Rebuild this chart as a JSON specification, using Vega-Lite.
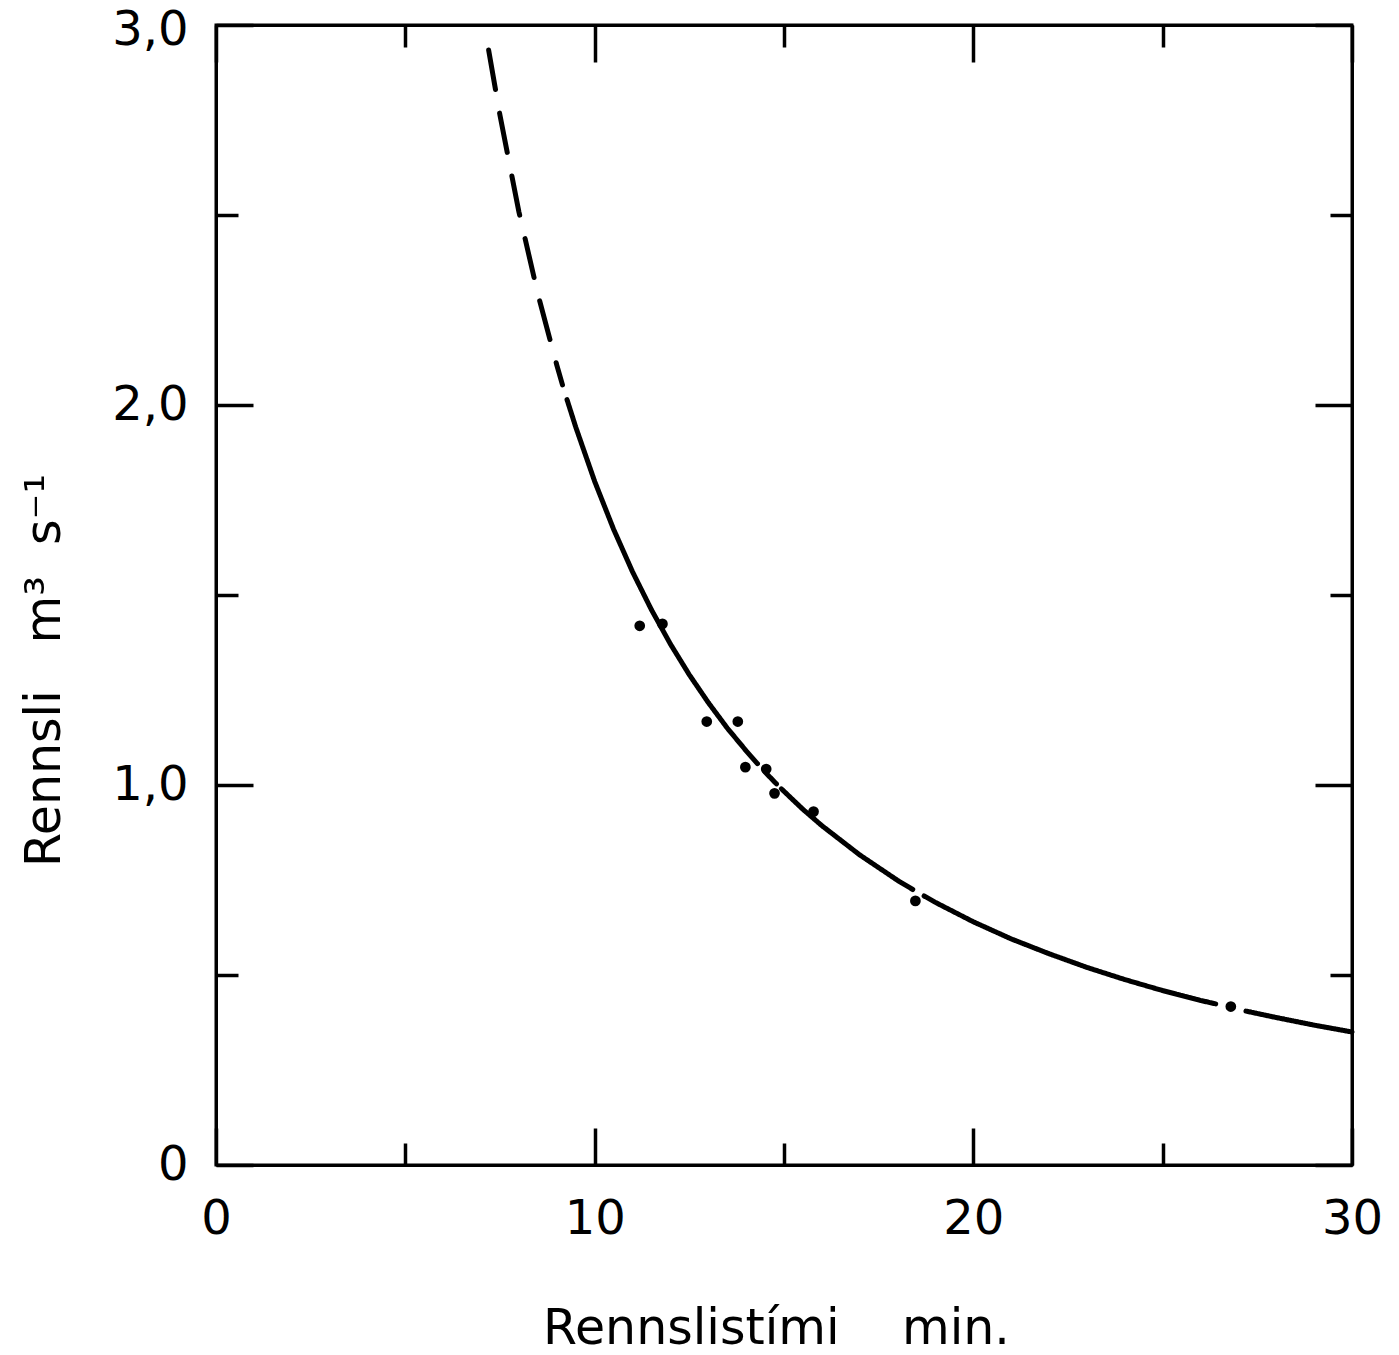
{
  "$schema": "https://vega.github.io/schema/vega-lite/v6.json",
  "width": 1136,
  "height": 1140,
  "autosize": {"type": "none"},
  "padding": {"left": 216, "top": 25, "right": 47, "bottom": 190},
  "background": "white",
  "config": {
    "view": {"stroke": "black", "strokeWidth": 3},
    "axis": {
      "domainColor": "black", "domainWidth": 3,
      "tickColor": "black", "tickWidth": 3.5,
      "grid": false,
      "labelFont": "DejaVu Sans", "labelFontSize": 48, "labelColor": "black",
      "titleFont": "DejaVu Sans", "titleFontSize": 49, "titleFontWeight": "normal", "titleColor": "black",
      "labelOverlap": false, "labelFlush": false
    }
  },
  "datasets": {
    "curve": [
      {"t": 7.2, "q": 2.934, "part": "dashed", "seg": "d"},
      {"t": 7.5, "q": 2.762, "part": "dashed", "seg": "d"},
      {"t": 8.0, "q": 2.508, "part": "dashed", "seg": "d"},
      {"t": 8.5, "q": 2.292, "part": "dashed", "seg": "d"},
      {"t": 9.0, "q": 2.105, "part": "dashed", "seg": "d"},
      {"t": 9.15, "q": 2.053, "part": "dashed", "seg": "d"},
      {"t": 9.27, "q": 2.014, "part": "solid", "seg": "s1"},
      {"t": 9.5, "q": 1.942, "part": "solid", "seg": "s1"},
      {"t": 10.0, "q": 1.799, "part": "solid", "seg": "s1"},
      {"t": 10.5, "q": 1.673, "part": "solid", "seg": "s1"},
      {"t": 11.0, "q": 1.561, "part": "solid", "seg": "s1"},
      {"t": 11.5, "q": 1.461, "part": "solid", "seg": "s1"},
      {"t": 12.0, "q": 1.371, "part": "solid", "seg": "s1"},
      {"t": 12.5, "q": 1.290, "part": "solid", "seg": "s1"},
      {"t": 13.0, "q": 1.217, "part": "solid", "seg": "s1"},
      {"t": 13.5, "q": 1.150, "part": "solid", "seg": "s1"},
      {"t": 14.0, "q": 1.090, "part": "solid", "seg": "s1"},
      {"t": 14.3, "q": 1.056, "part": "solid", "seg": "s1"},
      {"t": 14.5, "q": 1.034, "part": "solid", "seg": "s2"},
      {"t": 14.8, "q": 1.003, "part": "solid", "seg": "s2"},
      {"t": 14.93, "q": 0.990, "part": "solid", "seg": "s3"},
      {"t": 15.5, "q": 0.936, "part": "solid", "seg": "s3"},
      {"t": 16.0, "q": 0.893, "part": "solid", "seg": "s3"},
      {"t": 17.0, "q": 0.816, "part": "solid", "seg": "s3"},
      {"t": 18.0, "q": 0.749, "part": "solid", "seg": "s3"},
      {"t": 18.4, "q": 0.725, "part": "solid", "seg": "s3"},
      {"t": 18.7, "q": 0.708, "part": "solid", "seg": "s4"},
      {"t": 19.0, "q": 0.691, "part": "solid", "seg": "s4"},
      {"t": 20.0, "q": 0.640, "part": "solid", "seg": "s4"},
      {"t": 21.0, "q": 0.595, "part": "solid", "seg": "s4"},
      {"t": 22.0, "q": 0.556, "part": "solid", "seg": "s4"},
      {"t": 23.0, "q": 0.520, "part": "solid", "seg": "s4"},
      {"t": 24.0, "q": 0.488, "part": "solid", "seg": "s4"},
      {"t": 25.0, "q": 0.459, "part": "solid", "seg": "s4"},
      {"t": 26.0, "q": 0.433, "part": "solid", "seg": "s4"},
      {"t": 26.4, "q": 0.424, "part": "solid", "seg": "s4"},
      {"t": 27.2, "q": 0.405, "part": "solid", "seg": "s5"},
      {"t": 28.0, "q": 0.388, "part": "solid", "seg": "s5"},
      {"t": 29.0, "q": 0.368, "part": "solid", "seg": "s5"},
      {"t": 30.0, "q": 0.350, "part": "solid", "seg": "s5"}
    ],
    "obs": [
      {"t": 11.19, "q": 1.419},
      {"t": 11.79, "q": 1.424},
      {"t": 12.96, "q": 1.167},
      {"t": 13.78, "q": 1.167},
      {"t": 13.98, "q": 1.047},
      {"t": 14.53, "q": 1.042},
      {"t": 14.75, "q": 0.978},
      {"t": 15.78, "q": 0.930},
      {"t": 18.47, "q": 0.695},
      {"t": 26.8, "q": 0.417}
    ]
  },
  "layer": [
    {
      "data": {"name": "curve"},
      "mark": {"type": "line", "color": "black", "strokeWidth": 5, "strokeCap": "round"},
      "encoding": {
        "x": {
          "field": "t", "type": "quantitative",
          "scale": {"domain": [0, 30], "nice": false, "zero": false},
          "axis": {
            "orient": "bottom",
            "values": [0, 5, 10, 15, 20, 25, 30],
            "tickSize": {"condition": {"test": "datum.value % 10 === 0", "value": -37}, "value": -22},
            "labelPadding": 67,
            "labelExpr": "datum.value % 10 === 0 ? datum.label : ''",
            "title": "Rennslistími\u00a0\u00a0\u00a0\u00a0min.",
            "titleX": 560, "titleY": 163,
            "titleBaseline": "middle", "titleAlign": "center"
          }
        },
        "y": {
          "field": "q", "type": "quantitative",
          "scale": {"domain": [0, 3], "nice": false},
          "axis": {
            "orient": "left",
            "values": [0, 0.5, 1, 1.5, 2, 2.5, 3],
            "tickSize": {"condition": {"test": "datum.value % 1 === 0", "value": -37}, "value": -22},
            "labelPadding": 65,
            "labelBaseline": "middle",
            "labelOffset": {"condition": {"test": "datum.value === 3", "value": 5}, "value": 0},
            "labelExpr": "datum.value % 1 === 0 ? (datum.value === 0 ? '0' : replace(format(datum.value, '.1f'), '.', ',')) : ''",
            "title": "Rennsli\u00a0\u00a0\u00a0m³\u00a0\u00a0s⁻¹",
            "titleAngle": -90,
            "titleX": -172, "titleY": 645,
            "titleBaseline": "middle", "titleAlign": "center"
          }
        },
        "strokeDash": {
          "field": "part", "type": "nominal",
          "scale": {"domain": ["dashed", "solid"], "range": [[40, 24], [1, 0]]},
          "legend": null
        },
        "detail": {"field": "seg", "type": "nominal"}
      }
    },
    {
      "data": {"name": "obs"},
      "mark": {"type": "point", "filled": true, "color": "black", "size": 115, "opacity": 1},
      "encoding": {
        "x": {
          "field": "t", "type": "quantitative",
          "axis": {
            "orient": "top",
            "values": [0, 5, 10, 15, 20, 25, 30],
            "tickSize": {"condition": {"test": "datum.value % 10 === 0", "value": -37}, "value": -22},
            "labels": false, "title": null
          }
        },
        "y": {
          "field": "q", "type": "quantitative",
          "axis": {
            "orient": "right",
            "values": [0, 0.5, 1, 1.5, 2, 2.5, 3],
            "tickSize": {"condition": {"test": "datum.value % 1 === 0", "value": -37}, "value": -22},
            "labels": false, "title": null
          }
        }
      }
    }
  ],
  "resolve": {"axis": {"x": "independent", "y": "independent"}}
}
